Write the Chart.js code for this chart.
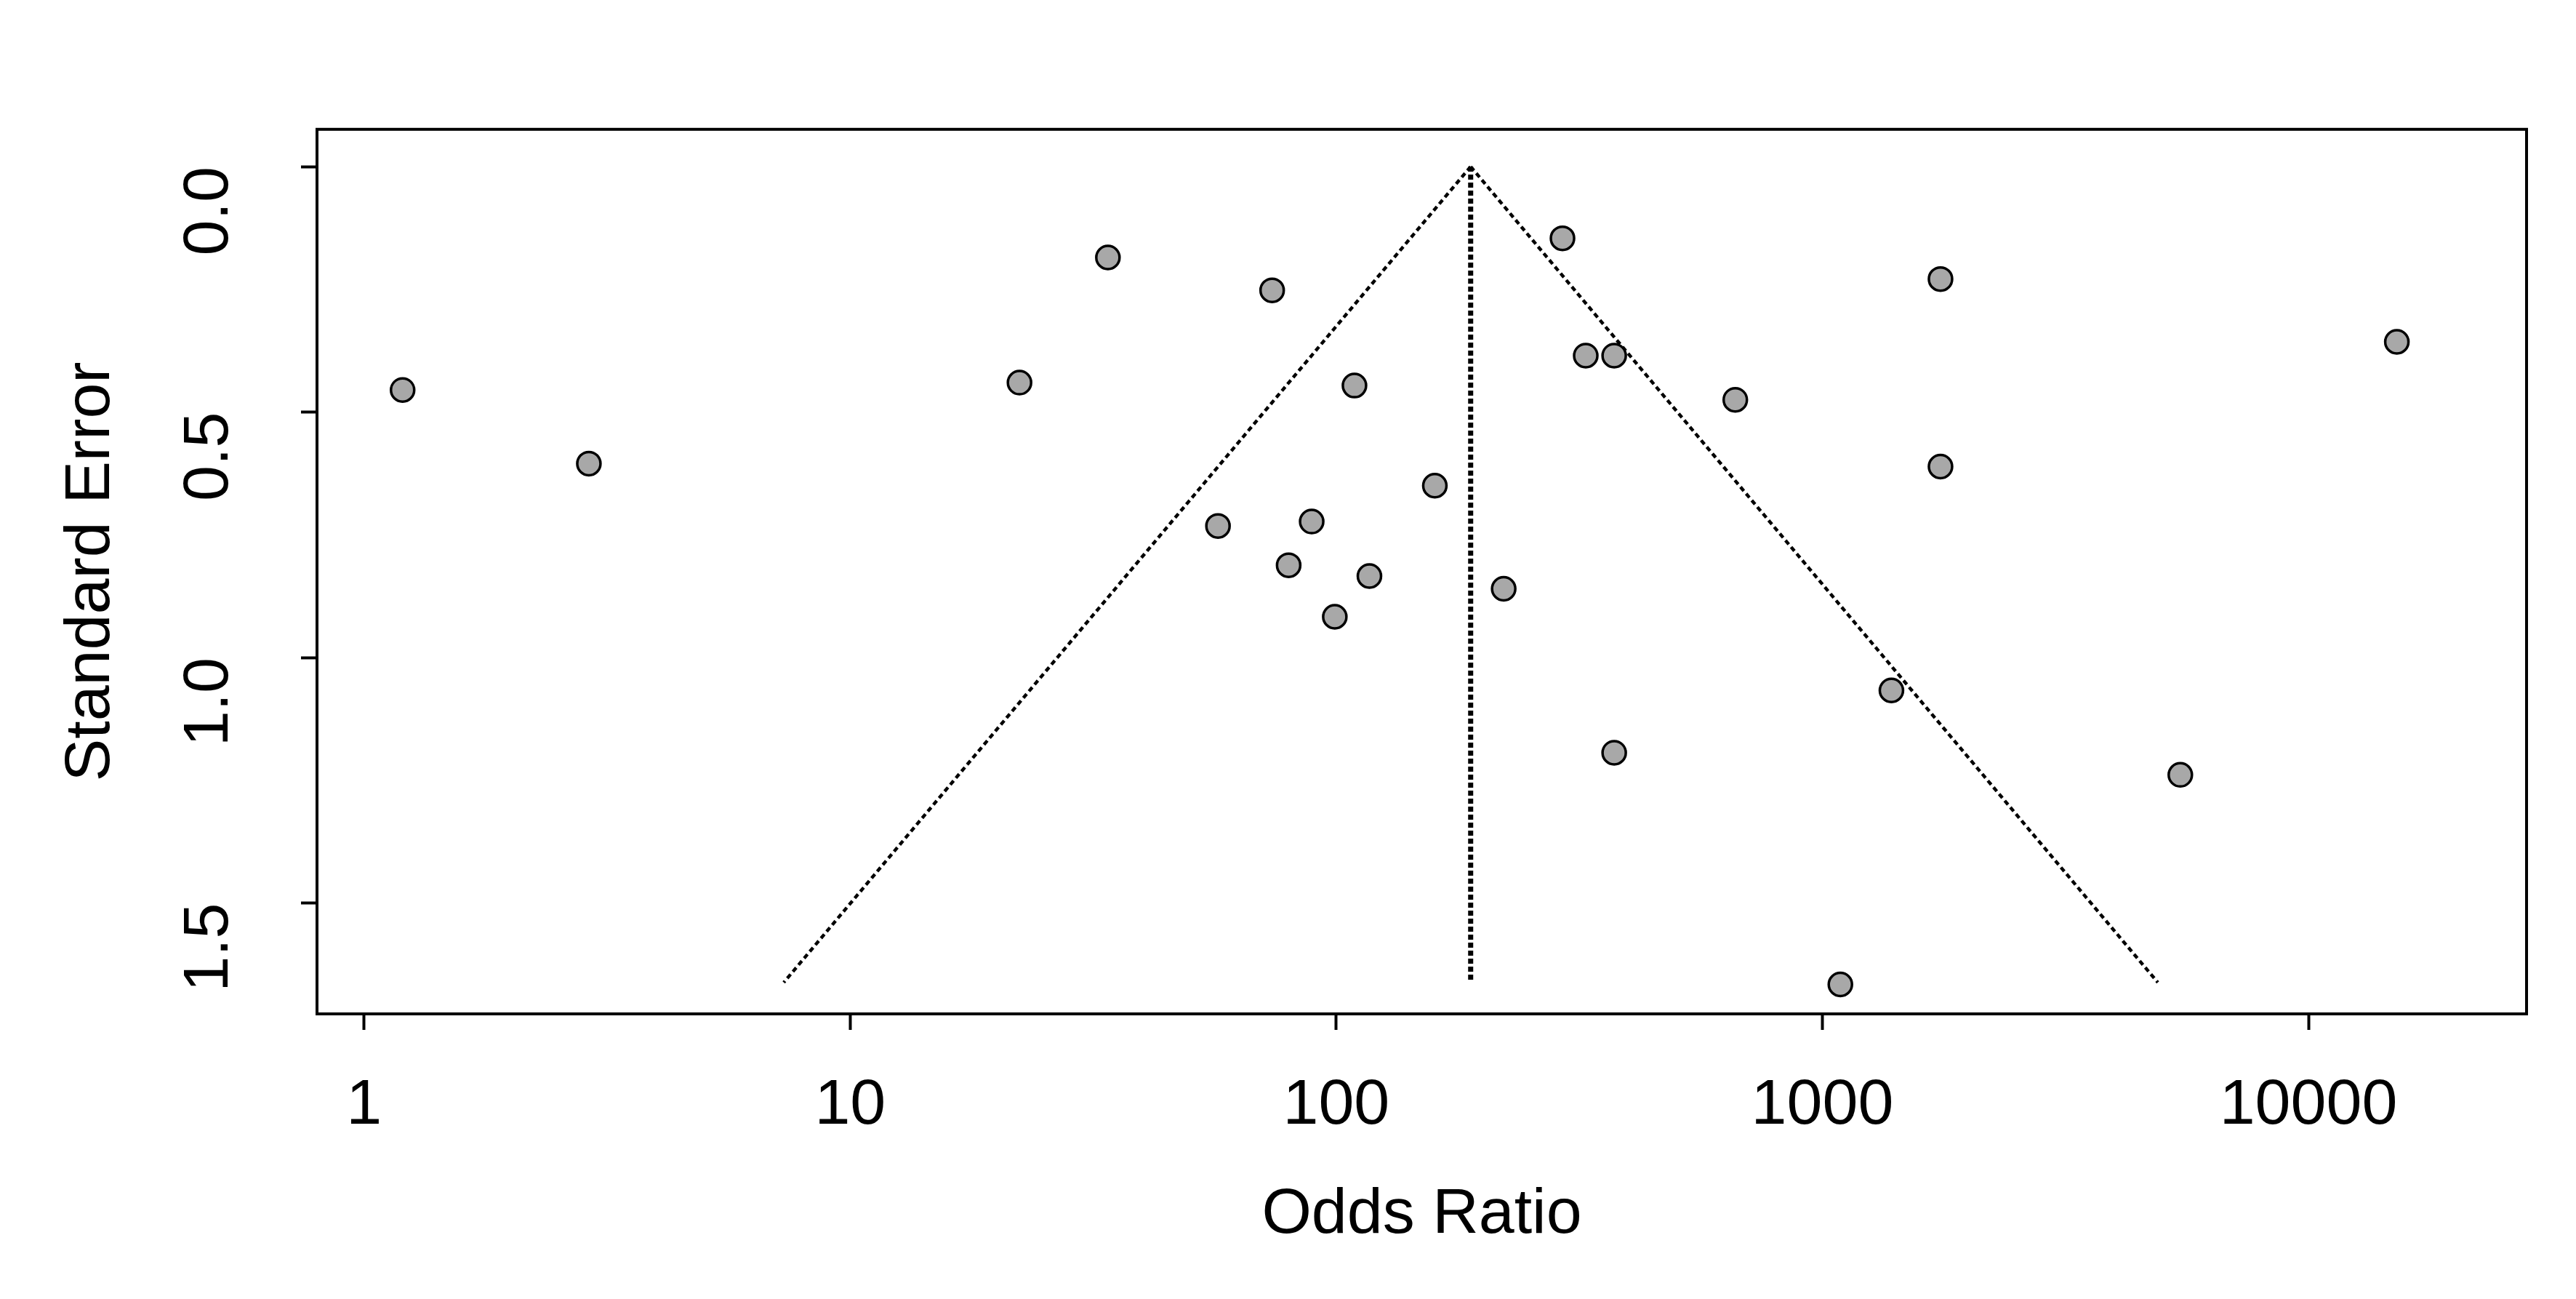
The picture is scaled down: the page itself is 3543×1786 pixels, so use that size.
<!DOCTYPE html>
<html><head><meta charset="utf-8">
<script src="https://cdn.jsdelivr.net/npm/chart.js@4"></script>
<style>html,body{margin:0;padding:0;background:#fff}#wrap{width:3543px;height:1786px}</style>
</head><body><div id="wrap"><canvas id="c" width="3543" height="1786"></canvas></div>
<script>
const oddsRatios = [1.2, 2.9, 22.3, 33.9, 73.8, 109, 57.1, 89, 79.8, 117, 99.3, 159.5, 221, 292, 326, 373, 373, 662, 1750, 1750, 1387, 1089, 5450, 15200];
const standardErrors = [0.455, 0.605, 0.44, 0.185, 0.252, 0.446, 0.732, 0.723, 0.812, 0.834, 0.917, 0.65, 0.86, 0.146, 0.385, 0.385, 1.194, 0.475, 0.229, 0.611, 1.067, 1.666, 1.239, 0.357];
const pooledOR = 189;
const funnelSE = [0, 1.662];
const funnelLeftOR = [189, 7.3];
const funnelRightOR = [189, 4900];
const xTicks = [1, 10, 100, 1000, 10000];
const yTicks = [0, 0.5, 1.0, 1.5];

const font = {family: "'Liberation Sans', Arial, sans-serif", size: 88};
const pts = oddsRatios.map((v, i) => ({x: v, y: standardErrors[i]}));
const boxPlugin = {
  id: 'box',
  afterDraw(chart) {
    const a = chart.chartArea, c = chart.ctx;
    c.save(); c.strokeStyle = '#000'; c.lineWidth = 4;
    c.strokeRect(a.left, a.top, a.right - a.left, a.bottom - a.top);
    c.restore();
  }
};
new Chart(document.getElementById('c'), {
  type: 'scatter',
  data: {datasets: [
    {data: pts, backgroundColor: '#a8a8a8', borderColor: '#000', borderWidth: 3.5, pointRadius: 16, order: 0},
    {type: 'line', data: funnelSE.map((s, i) => ({x: funnelLeftOR[i], y: s})), borderColor: '#000', borderWidth: 4.5, borderDash: [7, 5], pointRadius: 0, fill: false, order: 1},
    {type: 'line', data: funnelSE.map((s, i) => ({x: funnelRightOR[i], y: s})), borderColor: '#000', borderWidth: 4.5, borderDash: [7, 5], pointRadius: 0, fill: false, order: 1},
    {type: 'line', data: funnelSE.map(s => ({x: pooledOR, y: s})), borderColor: '#000', borderWidth: 7, borderDash: [7, 4], pointRadius: 0, fill: false, order: 1}
  ]},
  options: {
    responsive: false, animation: false, devicePixelRatio: 1,
    layout: {padding: {left: 73, top: 109, right: 68, bottom: 62}},
    plugins: {legend: {display: false}, tooltip: {enabled: false}},
    scales: {
      x: {
        type: 'logarithmic', min: 0.8, max: 28100,
        afterBuildTicks: s => { s.ticks = xTicks.map(v => ({value: v})); },
        afterFit: s => { s.height = 330; },
        grid: {display: true, drawOnChartArea: false, tickLength: 22, tickWidth: 4, color: '#000'},
        border: {display: false},
        ticks: {color: '#000', font, padding: 52, maxRotation: 0, callback: v => String(v)},
        title: {display: true, text: 'Odds Ratio', color: '#000', font, padding: {top: 0, bottom: 0}}
      },
      y: {
        reverse: true, min: -0.076, max: 1.726,
        afterBuildTicks: s => { s.ticks = yTicks.map(v => ({value: v})); },
        afterFit: s => { s.width = 363; },
        grid: {display: true, drawOnChartArea: false, tickLength: 22, tickWidth: 4, color: '#000'},
        border: {display: false},
        ticks: {color: '#000', font, padding: 125, minRotation: 90, maxRotation: 90, callback: v => v.toFixed(1)},
        title: {display: true, text: 'Standard Error', color: '#000', font, padding: {top: 0, bottom: 0}}
      }
    }
  },
  plugins: [boxPlugin]
});
</script></body></html>
